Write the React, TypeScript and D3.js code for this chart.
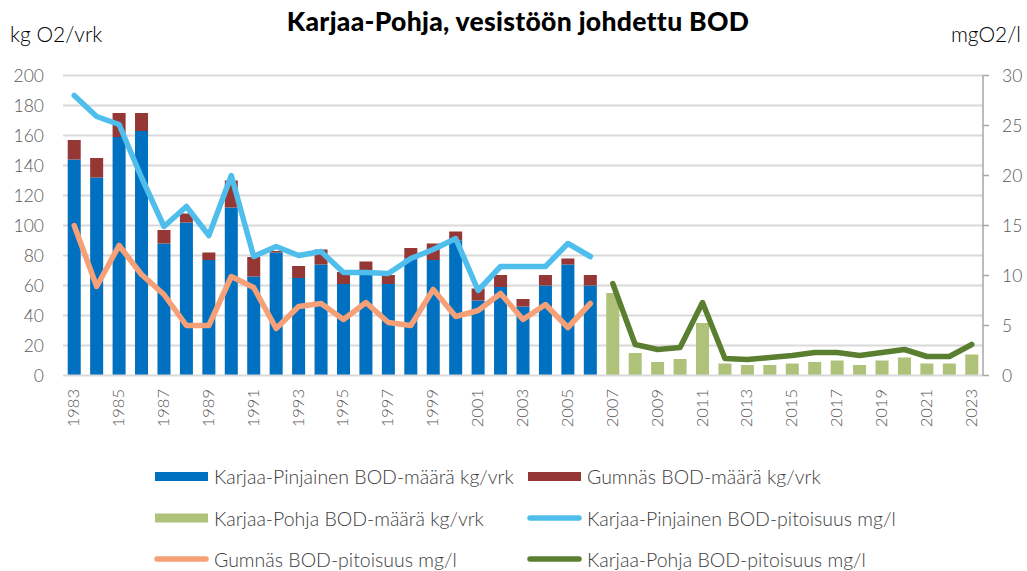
import * as d3 from "d3";

const years = [
  "1983", "1984", "1985", "1986", "1987", "1988", "1989", "1990", "1991", "1992",
  "1993", "1994", "1995", "1996", "1997", "1998", "1999", "2000", "2001", "2002",
  "2003", "2004", "2005", "2006", "2007", "2008", "2009", "2010", "2011", "2012",
  "2013", "2014", "2015", "2016", "2017", "2018", "2019", "2020", "2021", "2022", "2023"
];
const oldYears = years.slice(0, 24);
const newYears = years.slice(24);

// kg/vrk, 1983–2006
const pinjainenKg = [144, 132, 159, 163, 88, 102, 77, 112, 66, 82, 65, 74, 61, 70, 61, 78, 77, 90, 50, 59, 46, 60, 74, 60];
const gumnasKg = [13, 13, 16, 12, 9, 6, 5, 18, 13, 1, 8, 10, 8, 6, 6, 7, 11, 6, 8, 8, 5, 7, 4, 7];
// kg/vrk, 2007–2023
const pohjaKg = [55, 15, 9, 11, 35, 8, 7, 7, 8, 9, 10, 7, 10, 12, 8, 8, 14];

// mg/l
const pinjainenMg = [28.0, 25.9, 25.1, 19.8, 14.9, 16.9, 14.0, 20.0, 11.9, 12.9, 12.0, 12.4, 10.3, 10.3, 10.2, 11.7, 12.6, 13.7, 8.5, 10.9, 10.9, 10.9, 13.2, 11.9];
const gumnasMg = [15.0, 8.9, 13.0, 10.1, 8.1, 5.0, 5.0, 9.9, 8.8, 4.7, 6.9, 7.2, 5.6, 7.3, 5.3, 5.0, 8.6, 5.9, 6.5, 8.2, 5.6, 7.1, 4.8, 7.2];
const pohjaMg = [9.2, 3.1, 2.6, 2.8, 7.3, 1.7, 1.6, 1.8, 2.0, 2.3, 2.3, 2.0, 2.3, 2.6, 1.9, 1.9, 3.1];

const leftTicks = [0, 20, 40, 60, 80, 100, 120, 140, 160, 180, 200];
const rightTicks = [0, 5, 10, 15, 20, 25, 30];

const colors = {
  pinjainenBar: "#0070c0",
  gumnasBar: "#953735",
  pohjaBar: "#aec27a",
  pinjainenLine: "#4fbeec",
  gumnasLine: "#f6a077",
  pohjaLine: "#5b7f31"
};

const legendItems = [
  { label: "Karjaa-Pinjainen BOD-määrä kg/vrk", color: colors.pinjainenBar, kind: "bar" },
  { label: "Gumnäs BOD-määrä kg/vrk", color: colors.gumnasBar, kind: "bar" },
  { label: "Karjaa-Pohja BOD-määrä kg/vrk", color: colors.pohjaBar, kind: "bar" },
  { label: "Karjaa-Pinjainen BOD-pitoisuus mg/l", color: colors.pinjainenLine, kind: "line" },
  { label: "Gumnäs BOD-pitoisuus mg/l", color: colors.gumnasLine, kind: "line" },
  { label: "Karjaa-Pohja BOD-pitoisuus mg/l", color: colors.pohjaLine, kind: "line" }
];

const font = "Lato, 'Open Sans', sans-serif";
const axisColor = "#595959";

export default function App() {
  const width = 1027;
  const height = 571;
  const plot = { left: 63, right: 983, top: 75.5, bottom: 375.5 };

  const x = d3.scaleBand(years, [plot.left, plot.right]).paddingInner(0.42).paddingOuter(0.21);
  const yLeft = d3.scaleLinear([0, 200], [plot.bottom, plot.top]);
  const yRight = d3.scaleLinear([0, 30], [plot.bottom, plot.top]);
  const cx = (year: string) => (x(year) ?? 0) + x.bandwidth() / 2;

  const line = d3
    .line<[string, number]>()
    .x((d) => cx(d[0]))
    .y((d) => yRight(d[1]));

  const pinjainenPts = oldYears.map((yr, i) => [yr, pinjainenMg[i]] as [string, number]);
  const gumnasPts = oldYears.map((yr, i) => [yr, gumnasMg[i]] as [string, number]);
  const pohjaPts = newYears.map((yr, i) => [yr, pohjaMg[i]] as [string, number]);

  const legendCols = [155, 528];
  const legendRows = [476.5, 518, 559];

  return (
    <>
      <style>{"body{margin:0}"}</style>
      <svg width={width} height={height} viewBox={`0 0 ${width} ${height}`} style={{ display: "block", background: "#fff" }}>
        <text x={518} y={21} textAnchor="middle" dominantBaseline="central" fontFamily={font} fontWeight={900} fontSize={26.5} letterSpacing={0.3} fill="#000">
          Karjaa-Pohja, vesistöön johdettu BOD
        </text>
        <text x={10} y={33} dominantBaseline="central" fontFamily={font} fontWeight={300} fontSize={21} fill="#000">
          kg O2/vrk
        </text>
        <text x={1021} y={33} textAnchor="end" dominantBaseline="central" fontFamily={font} fontWeight={300} fontSize={21} fill="#000">
          mgO2/l
        </text>

        {leftTicks.map((t) => (
          <g key={t}>
            {t > 0 && (
              <line x1={plot.left} x2={plot.right} y1={yLeft(t)} y2={yLeft(t)} stroke="#d9d9d9" strokeWidth={2} />
            )}
            <text x={44} y={yLeft(t)} textAnchor="end" dominantBaseline="central" fontFamily={font} fontWeight={300} fontSize={17.5} fill={axisColor}>
              {t}
            </text>
          </g>
        ))}

        {oldYears.map((yr, i) => (
          <g key={yr}>
            <rect x={x(yr)} y={yLeft(pinjainenKg[i])} width={x.bandwidth()} height={yLeft(0) - yLeft(pinjainenKg[i])} fill={colors.pinjainenBar} />
            <rect
              x={x(yr)}
              y={yLeft(pinjainenKg[i] + gumnasKg[i])}
              width={x.bandwidth()}
              height={yLeft(pinjainenKg[i]) - yLeft(pinjainenKg[i] + gumnasKg[i])}
              fill={colors.gumnasBar}
            />
          </g>
        ))}
        {newYears.map((yr, i) => (
          <rect key={yr} x={x(yr)} y={yLeft(pohjaKg[i])} width={x.bandwidth()} height={yLeft(0) - yLeft(pohjaKg[i])} fill={colors.pohjaBar} />
        ))}

        <line x1={plot.left} x2={plot.right} y1={plot.bottom} y2={plot.bottom} stroke="#d9d9d9" strokeWidth={2} />

        <path d={line(pinjainenPts) ?? undefined} fill="none" stroke={colors.pinjainenLine} strokeWidth={5.5} strokeLinecap="round" strokeLinejoin="round" />
        <path d={line(gumnasPts) ?? undefined} fill="none" stroke={colors.gumnasLine} strokeWidth={5.5} strokeLinecap="round" strokeLinejoin="round" />
        <path d={line(pohjaPts) ?? undefined} fill="none" stroke={colors.pohjaLine} strokeWidth={5.5} strokeLinecap="round" strokeLinejoin="round" />

        {/* right axis */}
        <line x1={plot.right} x2={plot.right} y1={plot.top} y2={plot.bottom} stroke="#a6a6a6" strokeWidth={1.5} />
        {rightTicks.map((t) => (
          <g key={t}>
            <line x1={plot.right} x2={plot.right + 6} y1={yRight(t)} y2={yRight(t)} stroke="#a6a6a6" strokeWidth={1.5} />
            <text x={1002} y={yRight(t)} dominantBaseline="central" fontFamily={font} fontWeight={300} fontSize={17.5} fill={axisColor}>
              {t}
            </text>
          </g>
        ))}

        {years.filter((_, i) => i % 2 === 0).map((yr) => (
          <text
            key={yr}
            transform={`translate(${cx(yr) - 1}, 389) rotate(-90)`}
            textAnchor="end"
            dominantBaseline="central"
            fontFamily={font}
            fontWeight={300}
            fontSize={16.5}
            fill={axisColor}
          >
            {yr}
          </text>
        ))}

        {legendItems.map((item, i) => {
          const lx = legendCols[i % 2];
          const ly = legendRows[Math.floor(i / 2)];
          return (
            <g key={item.label}>
              {item.kind === "bar" ? (
                <rect x={lx} y={ly - 4.5} width={53} height={9} fill={item.color} />
              ) : (
                <line x1={lx + 2} x2={lx + 51} y1={ly} y2={ly} stroke={item.color} strokeWidth={5.5} strokeLinecap="round" />
              )}
              <text x={lx + 59} y={ly} dominantBaseline="central" fontFamily={font} fontWeight={300} fontSize={19.5} fill="#404040">
                {item.label}
              </text>
            </g>
          );
        })}
      </svg>
    </>
  );
}
